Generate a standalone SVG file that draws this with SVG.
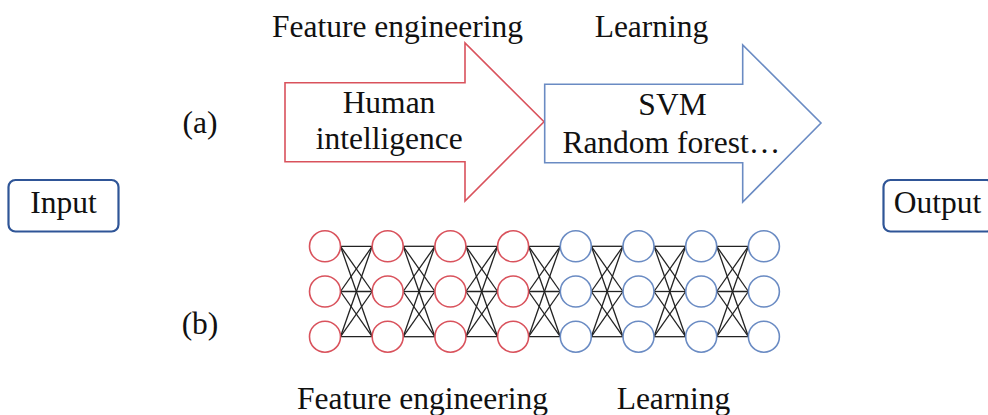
<svg xmlns="http://www.w3.org/2000/svg" xmlns:xlink="http://www.w3.org/1999/xlink" width="988" height="415" viewBox="0 0 988 415">
<style>
text{font-family:"Liberation Serif","Times New Roman",serif;font-size:31.5px;fill:#111;text-anchor:middle}
.red{fill:#fff;stroke:#D9525C;stroke-width:1.6}
.blue{fill:#fff;stroke:#6A8BC3;stroke-width:1.6}
.box{fill:#fff;stroke:#2F5597;stroke-width:2.2}
.lk line{stroke:#222;stroke-width:1.3}
</style>
<defs>
<g id="gap" class="lk">
<line x1="340.5" y1="246.3" x2="372.2" y2="246.3"/>
<line x1="340.5" y1="246.3" x2="372.2" y2="291.5"/>
<line x1="340.5" y1="246.3" x2="372.2" y2="336.7"/>
<line x1="340.5" y1="291.5" x2="372.2" y2="246.3"/>
<line x1="340.5" y1="291.5" x2="372.2" y2="291.5"/>
<line x1="340.5" y1="291.5" x2="372.2" y2="336.7"/>
<line x1="340.5" y1="336.7" x2="372.2" y2="246.3"/>
<line x1="340.5" y1="336.7" x2="372.2" y2="291.5"/>
<line x1="340.5" y1="336.7" x2="372.2" y2="336.7"/>
</g>
</defs>
<rect width="988" height="415" fill="#fff"/>

<g id="input">
<rect class="box" x="8.5" y="180" width="110" height="51.5" rx="7"/>
<text x="63.5" y="213">Input</text>
</g>
<g id="output">
<rect class="box" x="883.5" y="180" width="110" height="51.5" rx="7"/>
<text x="937.5" y="213">Output</text>
</g>

<text x="397.5" y="37">Feature engineering</text>
<text x="651.5" y="37">Learning</text>
<text x="200" y="133">(a)</text>
<text x="200" y="334">(b)</text>
<text x="422.5" y="409">Feature engineering</text>
<text x="673.5" y="409">Learning</text>

<g id="arrow-feature">
<path class="red" d="M285,82.7 H465 V43 L544,121.7 L465,201 V161.7 H285 Z"/>
<text x="389" y="112.7">Human</text>
<text x="389.3" y="149.3">intelligence</text>
</g>
<g id="arrow-learning">
<path class="blue" d="M544.7,84.3 H742.7 V45 L821,123 L742.7,202 V162.7 H544.7 Z"/>
<text x="672.5" y="115">SVM</text>
<text x="671.3" y="152.7">Random forest…</text>
</g>

<g id="connectors">
<use xlink:href="#gap"/>
<use xlink:href="#gap" transform="translate(62.7,0)"/>
<use xlink:href="#gap" transform="translate(125.4,0)"/>
<use xlink:href="#gap" transform="translate(188.1,0)"/>
<use xlink:href="#gap" transform="translate(250.8,0)"/>
<use xlink:href="#gap" transform="translate(313.5,0)"/>
<use xlink:href="#gap" transform="translate(376.2,0)"/>
</g>

<g id="layer1" class="red">
<circle cx="325" cy="246.3" r="15.5"/><circle cx="325" cy="291.5" r="15.5"/><circle cx="325" cy="336.7" r="15.5"/>
</g>
<g id="layer2" class="red">
<circle cx="387.7" cy="246.3" r="15.5"/><circle cx="387.7" cy="291.5" r="15.5"/><circle cx="387.7" cy="336.7" r="15.5"/>
</g>
<g id="layer3" class="red">
<circle cx="450.4" cy="246.3" r="15.5"/><circle cx="450.4" cy="291.5" r="15.5"/><circle cx="450.4" cy="336.7" r="15.5"/>
</g>
<g id="layer4" class="red">
<circle cx="513.1" cy="246.3" r="15.5"/><circle cx="513.1" cy="291.5" r="15.5"/><circle cx="513.1" cy="336.7" r="15.5"/>
</g>
<g id="layer5" class="blue">
<circle cx="575.8" cy="246.3" r="15.5"/><circle cx="575.8" cy="291.5" r="15.5"/><circle cx="575.8" cy="336.7" r="15.5"/>
</g>
<g id="layer6" class="blue">
<circle cx="638.5" cy="246.3" r="15.5"/><circle cx="638.5" cy="291.5" r="15.5"/><circle cx="638.5" cy="336.7" r="15.5"/>
</g>
<g id="layer7" class="blue">
<circle cx="701.2" cy="246.3" r="15.5"/><circle cx="701.2" cy="291.5" r="15.5"/><circle cx="701.2" cy="336.7" r="15.5"/>
</g>
<g id="layer8" class="blue">
<circle cx="763.9" cy="246.3" r="15.5"/><circle cx="763.9" cy="291.5" r="15.5"/><circle cx="763.9" cy="336.7" r="15.5"/>
</g>
</svg>
